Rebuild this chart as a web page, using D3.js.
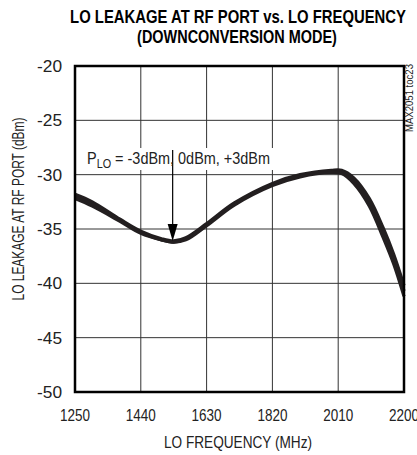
<!DOCTYPE html>
<html>
<head>
<meta charset="utf-8">
<script src="https://cdn.jsdelivr.net/npm/d3@7"></script>
<style>
body{margin:0;background:#fff;}
text{font-family:"Liberation Sans Narrow","Liberation Sans",Arial,sans-serif;fill:#222;}
</style>
</head>
<body>
<svg id="chart" width="417" height="455"></svg>
<script>
// LO frequency points (MHz)
var freq=[1250,1300,1380,1440,1500,1535,1570,1630,1710,1820,1900,1990,2020,2055,2100,2140,2170,2200];
// leakage for the three LO drive levels (dBm)
var pm3=[-31.8,-32.5,-34.1,-35.2,-35.9,-36.1,-35.8,-34.5,-32.6,-30.8,-30.0,-29.6,-29.6,-30.3,-32.2,-34.9,-37.3,-40.2];
var p0 =[-32.0,-32.7,-34.2,-35.3,-36.0,-36.2,-35.9,-34.6,-32.7,-30.9,-30.1,-29.7,-29.7,-30.5,-32.5,-35.3,-37.7,-40.7];
var pp3=[-32.2,-32.9,-34.3,-35.4,-36.0,-36.2,-36.0,-34.7,-32.8,-31.0,-30.2,-29.8,-29.9,-30.8,-32.9,-35.8,-38.2,-41.2];
var series=[pm3,p0,pp3];
var xTicks=[1250,1440,1630,1820,2010,2200];
var yTicks=[-20,-25,-30,-35,-40,-45,-50];

var svg=d3.select('#chart');
var pl=75,pr=404,pt=66,pb=392;

var x=d3.scaleLinear().domain([1250,2200]).range([pl,pr]);
var y=d3.scaleLinear().domain([-50,-20]).range([pb,pt]);

// title, squeezed horizontally to look condensed
function fitText(cx,cy,w,str){
  var tx=svg.append('text').attr('text-anchor','middle')
    .style('font-weight','bold').style('font-size','18px').style('fill','#000').text(str);
  var sx=w/tx.node().getComputedTextLength();
  tx.attr('transform','translate('+cx+','+cy+') scale('+sx+',1)');
}
fitText(238,23,336,'LO LEAKAGE AT RF PORT vs. LO FREQUENCY');
fitText(237,43,200,'(DOWNCONVERSION MODE)');

// grid
svg.append('g').selectAll('line').data(xTicks).enter().append('line')
  .attr('x1',function(d){return x(d);}).attr('x2',function(d){return x(d);})
  .attr('y1',pt).attr('y2',pb).attr('stroke','#333').attr('stroke-width',1);
svg.append('g').selectAll('line').data(yTicks).enter().append('line')
  .attr('x1',pl).attr('x2',pr)
  .attr('y1',function(d){return y(d);}).attr('y2',function(d){return y(d);})
  .attr('stroke','#333').attr('stroke-width',1);

// curves
var line=d3.line().x(function(d,i){return x(freq[i]);}).y(function(d){return y(d);})
  .curve(d3.curveCatmullRom.alpha(0.5));
svg.append('g').selectAll('path').data(series).enter().append('path')
  .attr('d',line).attr('fill','none').attr('stroke','#231f20').attr('stroke-width',3.2);

// frame
svg.append('rect').attr('x',pl).attr('y',pt).attr('width',pr-pl).attr('height',pb-pt)
  .attr('fill','none').attr('stroke','#000').attr('stroke-width',2.5);

// axis tick labels
svg.append('g').selectAll('text').data(yTicks).enter().append('text')
  .attr('x',pl-13).attr('y',function(d){return y(d)+6;}).attr('text-anchor','end')
  .attr('textLength',25).attr('lengthAdjust','spacingAndGlyphs')
  .style('font-size','16px').text(function(d){return d;});
svg.append('g').selectAll('text').data(xTicks).enter().append('text')
  .attr('x',function(d){return x(d);}).attr('y',421).attr('text-anchor','middle')
  .attr('textLength',30).attr('lengthAdjust','spacingAndGlyphs')
  .style('font-size','16px').text(function(d){return d;});

// axis titles
svg.append('text').attr('x',238).attr('y',448).attr('text-anchor','middle')
  .attr('textLength',148).attr('lengthAdjust','spacingAndGlyphs')
  .style('font-size','16px').text('LO FREQUENCY (MHz)');
svg.append('text').attr('transform','translate(24,209) rotate(-90)').attr('text-anchor','middle')
  .attr('textLength',183).attr('lengthAdjust','spacingAndGlyphs')
  .style('font-size','16px').text('LO LEAKAGE AT RF PORT (dBm)');

// side code
svg.append('text').attr('transform','translate(413,98) rotate(-90)').attr('text-anchor','middle')
  .attr('textLength',68).attr('lengthAdjust','spacingAndGlyphs')
  .style('font-size','10px').text('MAX2051 toc23');

// annotation
var ax=x(1532);
var tipY=y(-36.2)-1;
svg.append('rect').attr('x',85).attr('y',148).attr('width',188).attr('height',22).attr('fill','#fff');
svg.append('line').attr('x1',ax).attr('x2',ax).attr('y1',150).attr('y2',tipY-14)
  .attr('stroke','#000').attr('stroke-width',1.2);
svg.append('path')
  .attr('d','M'+(ax-5)+','+(tipY-17)+'L'+(ax+5)+','+(tipY-17)+'L'+ax+','+tipY+'Z')
  .attr('fill','#000');
var t=svg.append('text').attr('x',87).attr('y',164).style('font-size','16px')
  .attr('textLength',183).attr('lengthAdjust','spacingAndGlyphs');
t.append('tspan').text('P');
t.append('tspan').attr('dy',4).style('font-size','12px').text('LO');
t.append('tspan').attr('dy',-4).text(' = -3dBm, 0dBm, +3dBm');
</script>
</body>
</html>
